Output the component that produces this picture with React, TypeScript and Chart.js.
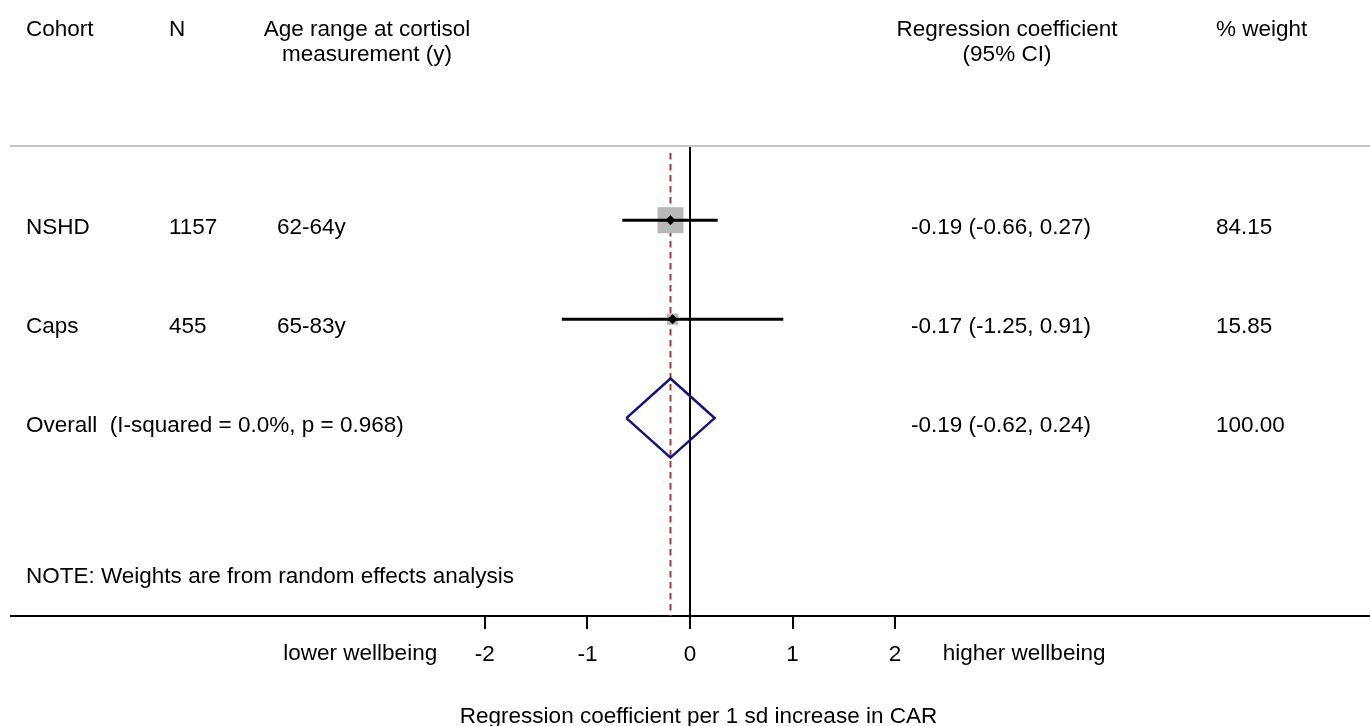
import React, { useEffect, useRef } from 'react';
import { Chart, registerables } from 'chart.js';

Chart.register(...registerables);

// ---------- data ----------
const cohorts = ['NSHD', 'Caps'];
const sampleSizes = ['1157', '455'];
const ageRanges = ['62-64y', '65-83y'];
const estimates = [-0.19, -0.17];
const lowerCI = [-0.66, -1.25];
const upperCI = [0.27, 0.91];
const weights = [84.15, 15.85];

const overallEstimate = -0.19;
const overallLower = -0.62;
const overallUpper = 0.24;
const overallWeight = 100.0;
const overallLabel = 'Overall  (I-squared = 0.0%, p = 0.968)';
const noteText = 'NOTE: Weights are from random effects analysis';

const xTicks = [-2, -1, 0, 1, 2];
const lowerSideLabel = 'lower wellbeing';
const higherSideLabel = 'higher wellbeing';
const xTitle = 'Regression coefficient per 1 sd increase in CAR';

const headerCohort = ['Cohort'];
const headerN = ['N'];
const headerAge = ['Age range at cortisol', 'measurement (y)'];
const headerCoef = ['Regression coefficient', '(95% CI)'];
const headerWeight = ['% weight'];

// ---------- layout / style constants ----------
const FONT_FAMILY = '"Liberation Sans", Arial, Helvetica, sans-serif';
const FONT_SIZE = 22.5;
const FONT = `${FONT_SIZE}px ${FONT_FAMILY}`;
const X_MIN = -6.62;
const X_MAX = 6.63;
const Y_MIN = 0.25;
const Y_MAX = 5.0;
const OVERALL_ROW = cohorts.length + 1;
const NOTE_ROW = 4.53;
const DASH_TOP = 0.32;
const DIAMOND_HALF = 0.4;
const BOX_SCALE = 26 / Math.sqrt(84.15);
const COL = { cohort: 26, n: 169, ageHead: 367, age: 277, coefHead: 1007, coef: 911, weight: 1216 };
const TEXT_BASELINE_OFFSET = 14;
const HEADER_LINE1 = 110;
const HEADER_LINE2 = 85;
const SIDE_LABEL_X = 2.465;
const TICK_LABEL_BASELINE = 44;
const TITLE_CENTER_X = 0.083;
const TITLE_BASELINE = 107;

const fmt = (v: number) => v.toFixed(2);

const textPlugin = {
  id: 'forestText',
  afterDraw(chart: any) {
    const { ctx, chartArea, scales } = chart;
    const xs = scales.x;
    const ys = scales.y;
    ctx.save();
    ctx.font = FONT;
    ctx.fillStyle = '#000';
    ctx.textBaseline = 'alphabetic';
    const top = chartArea.top;
    const hy = [top - HEADER_LINE1, top - HEADER_LINE2];

    const drawLines = (lines: string[], x: number, align: CanvasTextAlign) => {
      ctx.textAlign = align;
      lines.forEach((l, i) => ctx.fillText(l, x, hy[i]));
    };
    drawLines(headerCohort, COL.cohort, 'left');
    drawLines(headerN, COL.n, 'left');
    drawLines(headerAge, COL.ageHead, 'center');
    drawLines(headerCoef, COL.coefHead, 'center');
    drawLines(headerWeight, COL.weight, 'left');

    ctx.textAlign = 'left';
    cohorts.forEach((c, i) => {
      const py = ys.getPixelForValue(i + 1) + TEXT_BASELINE_OFFSET;
      ctx.fillText(c, COL.cohort, py);
      ctx.fillText(sampleSizes[i], COL.n, py);
      ctx.fillText(ageRanges[i], COL.age, py);
      ctx.fillText(`${fmt(estimates[i])} (${fmt(lowerCI[i])}, ${fmt(upperCI[i])})`, COL.coef, py);
      ctx.fillText(fmt(weights[i]), COL.weight, py);
    });
    const oy = ys.getPixelForValue(OVERALL_ROW) + TEXT_BASELINE_OFFSET;
    ctx.fillText(overallLabel, COL.cohort, oy);
    ctx.fillText(`${fmt(overallEstimate)} (${fmt(overallLower)}, ${fmt(overallUpper)})`, COL.coef, oy);
    ctx.fillText(fmt(overallWeight), COL.weight, oy);

    const ny = ys.getPixelForValue(NOTE_ROW) + TEXT_BASELINE_OFFSET;
    ctx.fillText(noteText, COL.cohort, ny);

    // side labels on the x axis
    const sy = chartArea.bottom + TICK_LABEL_BASELINE;
    ctx.textAlign = 'right';
    ctx.fillText(lowerSideLabel, xs.getPixelForValue(-SIDE_LABEL_X), sy);
    ctx.textAlign = 'left';
    ctx.fillText(higherSideLabel, xs.getPixelForValue(SIDE_LABEL_X), sy);

    // x-axis title
    ctx.textAlign = 'center';
    ctx.fillText(xTitle, xs.getPixelForValue(TITLE_CENTER_X), chartArea.bottom + TITLE_BASELINE);
    ctx.restore();
  },
};

export default function App() {
  const ref = useRef<HTMLCanvasElement | null>(null);

  useEffect(() => {
    if (!ref.current) return;
    Chart.defaults.font.family = FONT_FAMILY;
    Chart.defaults.font.size = FONT_SIZE;
    Chart.defaults.color = '#000';

    const boxData = estimates.map((e, i) => ({ x: e, y: i + 1 }));
    const ciSets = estimates.map((_, i) => ({
      type: 'line' as const,
      data: [
        { x: lowerCI[i], y: i + 1 },
        { x: upperCI[i], y: i + 1 },
      ],
      borderColor: '#000',
      borderWidth: 3,
      pointRadius: 0,
      order: 1,
    }));

    const chart = new Chart(ref.current, {
      type: 'scatter',
      data: {
        datasets: [
          {
            type: 'scatter',
            data: boxData,
            pointStyle: 'rect',
            pointRadius: (ctx: any) => (BOX_SCALE * Math.sqrt(weights[ctx.dataIndex] ?? 0)) / Math.SQRT2,
            backgroundColor: '#b8b8b8',
            borderWidth: 0,
            order: 2,
          } as any,
          ...ciSets,
          {
            type: 'scatter',
            data: boxData,
            pointStyle: 'rectRot',
            pointRadius: 5,
            backgroundColor: '#000',
            borderWidth: 0,
            order: 0,
          } as any,
          {
            type: 'line',
            data: [
              { x: overallEstimate, y: DASH_TOP },
              { x: overallEstimate, y: Y_MAX },
            ],
            borderColor: '#a33a3d',
            borderWidth: 2,
            borderDash: [6.5, 4.5],
            pointRadius: 0,
            order: 3,
          },
          {
            type: 'line',
            data: [
              { x: overallLower, y: OVERALL_ROW },
              { x: overallEstimate, y: OVERALL_ROW - DIAMOND_HALF },
              { x: overallUpper, y: OVERALL_ROW },
              { x: overallEstimate, y: OVERALL_ROW + DIAMOND_HALF },
              { x: overallLower, y: OVERALL_ROW },
            ],
            borderColor: '#12127a',
            borderWidth: 2.5,
            borderJoinStyle: 'miter',
            pointRadius: 0,
            order: 1,
          },
        ],
      },
      options: {
        animation: false,
        responsive: true,
        maintainAspectRatio: false,
        layout: { autoPadding: false, padding: { left: 11, right: 0, top: 0, bottom: 0 } },
        plugins: { legend: { display: false }, tooltip: { enabled: false } },
        scales: {
          x: {
            type: 'linear',
            position: 'bottom',
            min: X_MIN,
            max: X_MAX,
            afterBuildTicks: (scale: any) => {
              scale.ticks = xTicks.map((v) => ({ value: v }));
            },
            afterFit: (scale: any) => {
              scale.height = 110;
              scale.paddingLeft = 0;
              scale.paddingRight = 0;
            },
            ticks: {
              autoSkip: false,
              maxRotation: 0,
              padding: 12,
              color: '#000',
              font: { size: FONT_SIZE, family: FONT_FAMILY },
              callback: (v: any) => String(v),
            },
            grid: {
              display: true,
              drawOnChartArea: true,
              color: (ctx: any) => (ctx.tick && ctx.tick.value === 0 ? '#000' : 'rgba(0,0,0,0)'),
              lineWidth: 2,
              tickColor: '#000',
              tickLength: 13,
              tickWidth: 2,
            },
            border: { display: true, color: '#000', width: 2 },
            title: { display: false },
          },
          x2: {
            type: 'linear',
            position: 'top',
            min: X_MIN,
            max: X_MAX,
            afterFit: (scale: any) => {
              scale.height = 146;
              scale.paddingLeft = 0;
              scale.paddingRight = 0;
            },
            ticks: { display: false },
            grid: { display: false, drawTicks: false },
            border: { display: true, color: '#c4c4c4', width: 2 },
          },
          y: {
            type: 'linear',
            display: false,
            reverse: true,
            min: Y_MIN,
            max: Y_MAX,
          },
        },
      } as any,
      plugins: [textPlugin],
    });
    return () => chart.destroy();
  }, []);

  return (
    <div style={{ position: 'fixed', left: 0, top: 0, width: 1370, height: 726, background: '#fff' }}>
      <canvas ref={ref} />
    </div>
  );
}
